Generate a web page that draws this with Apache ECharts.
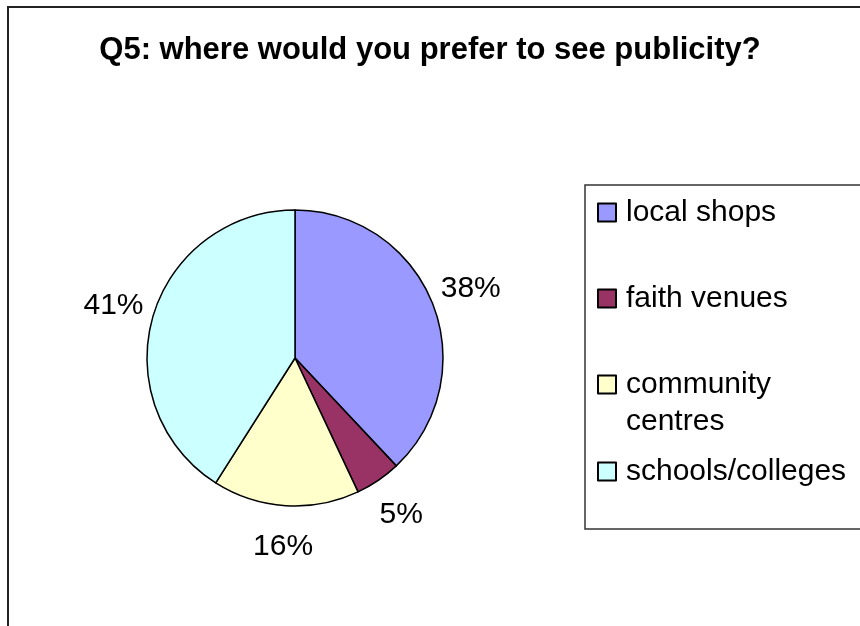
<!DOCTYPE html>
<html>
<head>
<meta charset="utf-8">
<script src="https://cdn.jsdelivr.net/npm/echarts@6/dist/echarts.min.js"></script>
<style>
  html, body { margin: 0; padding: 0; background: #fff; }
  #chart { width: 860px; height: 626px; }
</style>
</head>
<body>
<div id="chart"></div>
<script>
// Survey answers: preferred places to see publicity (percent of respondents)
const categories = ['local shops', 'faith venues', 'community centres', 'schools/colleges'];
const shares = [38, 5, 16, 41];
const sliceColors = ['#9999FF', '#993366', '#FFFFCC', '#CCFFFF'];
const titleText = 'Q5: where would you prefer to see publicity?';

const FONT = '"Liberation Sans", Arial, sans-serif';
const CX = 295, CY = 358, R = 148;
const LINE_H = 37;

const pieData = categories.map((name, i) => ({
  name,
  value: shares[i],
  itemStyle: { color: sliceColors[i] }
}));

// One legend per entry so each row can sit at its own height.
// The two-line entry gets a leading empty line so the swatch lines up with "community".
const legendRows = [
  { name: 'local shops', top: 194 },
  { name: 'faith venues', top: 280 },
  { name: 'community centres', top: 366 - LINE_H, twoLine: true },
  { name: 'schools/colleges', top: 453 }
];

const legends = legendRows.map(row => ({
  data: [row.name],
  orient: 'vertical',
  left: 597,
  top: row.top,
  padding: 0,
  itemWidth: 18,
  itemHeight: 18,
  icon: 'rect',
  selectedMode: false,
  formatter: name => row.twoLine ? '\n' + name.replace(' ', '\n') : name,
  textStyle: {
    fontFamily: FONT,
    fontSize: 30,
    color: '#000',
    lineHeight: LINE_H,
    padding: [0, 0, 0, 5]
  }
}));

const chart = echarts.init(document.getElementById('chart'), null, { renderer: 'canvas' });
chart.setOption({
  backgroundColor: '#fff',
  animation: false,
  title: {
    text: titleText,
    left: 'center',
    top: 30,
    textStyle: { fontFamily: FONT, fontSize: 31, fontWeight: 'bold', color: '#000' }
  },
  legend: legends,
  graphic: [
    {
      type: 'rect',
      silent: true,
      shape: { x: 8, y: 7, width: 900, height: 700 },
      style: { fill: 'none', stroke: '#222', lineWidth: 2 },
      z: 0
    },
    {
      type: 'rect',
      silent: true,
      shape: { x: 585, y: 185, width: 320, height: 344 },
      style: { fill: 'none', stroke: '#333', lineWidth: 1.5 },
      z: 0
    }
  ],
  series: [
    {
      type: 'pie',
      center: [CX, CY],
      radius: [0, R],
      startAngle: 90,
      clockwise: true,
      silent: true,
      label: { show: false },
      labelLine: { show: false },
      itemStyle: { borderColor: '#000', borderWidth: 1.5 },
      data: pieData
    },
    {
      // transparent ring carrying the percentage labels just outside the pie
      type: 'pie',
      center: [CX, CY],
      radius: [R, R + 76],
      startAngle: 90,
      clockwise: true,
      silent: true,
      itemStyle: { color: 'rgba(0,0,0,0)', borderWidth: 0 },
      label: {
        show: true,
        position: 'inside',
        formatter: p => p.value + '%',
        fontFamily: FONT,
        fontSize: 30,
        color: '#000'
      },
      labelLine: { show: false },
      data: categories.map((name, i) => ({ name, value: shares[i] }))
    }
  ]
});
</script>
</body>
</html>
